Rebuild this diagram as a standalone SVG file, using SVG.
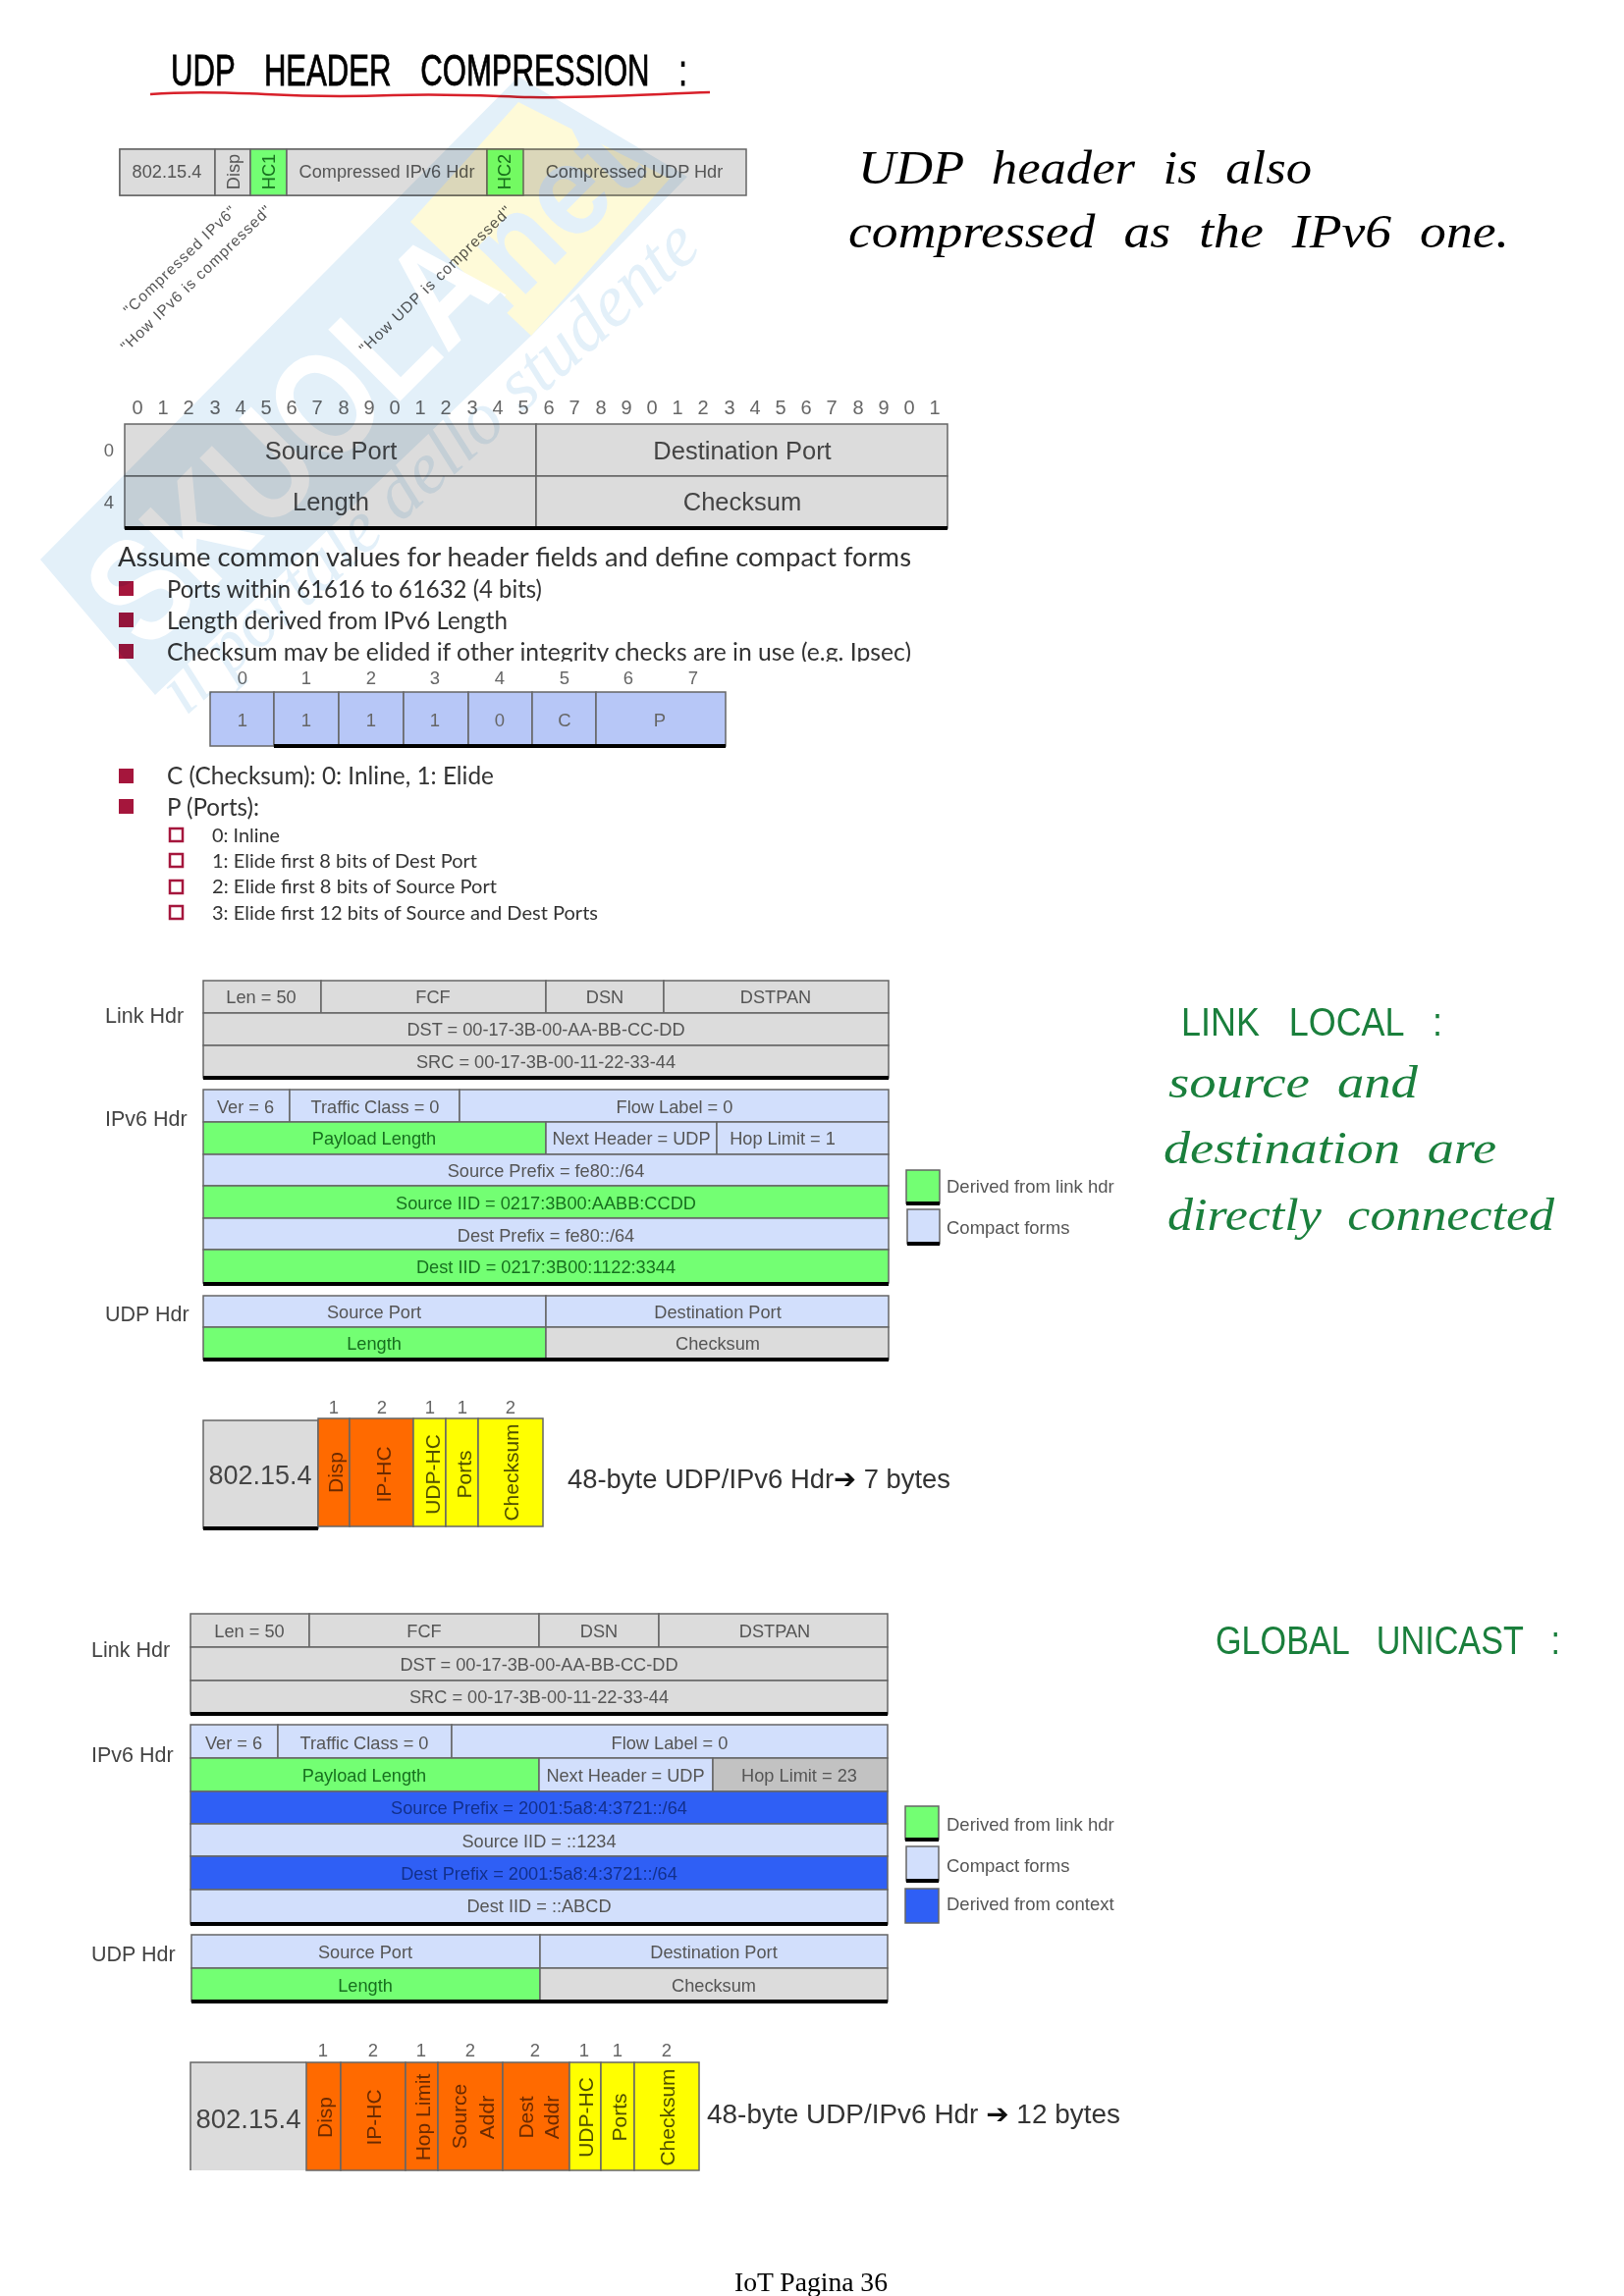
<svg xmlns="http://www.w3.org/2000/svg" width="1654" height="2339" viewBox="0 0 1654 2339">
<style>
text{font-family:"Liberation Sans",Arial,sans-serif;fill:#555}
.c{text-anchor:middle;dominant-baseline:central;font-size:18.2px}
.l{dominant-baseline:central;font-size:18.5px}
.lb{dominant-baseline:central;font-size:21.5px;fill:#444}
.n{text-anchor:middle;dominant-baseline:central;font-size:18.5px;fill:#666}
.r{text-anchor:middle;dominant-baseline:central;font-size:20px;fill:#666}
.big{text-anchor:middle;dominant-baseline:central;font-size:25.5px;fill:#444}
.v{text-anchor:middle;dominant-baseline:central;font-size:21px}
.vo{fill:#6b2a00}.vy{fill:#4f4f00}
.gt{fill:#17701f}.bt{fill:#12308c}
.rot{font-size:15.5px;fill:#555}
.cal{font-family:Lato,"Open Sans",sans-serif;fill:#333}
.hb{font-family:"Liberation Serif",serif;font-style:italic;fill:#000;font-size:48px;word-spacing:14px}
.hg{font-family:"Liberation Serif",serif;font-style:italic;fill:#1a7f3c;font-size:46px;word-spacing:12px}
.cap{font-family:"Liberation Sans",sans-serif;fill:#000;stroke:#000;stroke-width:.8;font-size:44px;word-spacing:30px}
.capg{font-family:"Liberation Sans",sans-serif;fill:#1a7f3c;font-size:40px;word-spacing:22px}
.res{font-size:27.5px;dominant-baseline:central;fill:#333}
.ar{font-family:"DejaVu Sans",sans-serif;font-weight:bold;fill:#111}
rect{stroke:#666;stroke-width:1.5}
.g{fill:#dcdcdc}.b{fill:#d2dffc}.gr{fill:#73ff73}.d{fill:#2f5ff5}.hl{fill:#c2c2c2}.o{fill:#ff6a00}.y{fill:#ffff00}.p{fill:#b7c7f7}
.k{stroke:#000;stroke-width:4;fill:none}
.bul{fill:#a5163c;stroke:none}
.box{fill:#fff;stroke:#a5163c;stroke-width:2.5}
</style>
<defs><clipPath id="cut"><rect x="100" y="560" width="900" height="114" style="stroke:none"/></clipPath></defs>
<rect width="1654" height="2339" fill="#fff" style="stroke:none"/>

<g id="title">
<text class="cap" x="174" y="87" textLength="526" lengthAdjust="spacingAndGlyphs">UDP HEADER COMPRESSION :</text>
<path d="M153 96C190 93 230 94 270 96S340 99 400 97 500 98 540 99 640 97 723 94" fill="none" stroke="#d8202a" stroke-width="2.5"/>
</g>

<g id="format-strip">
<rect class="g" x="122" y="152" width="638" height="47"/>
<rect class="g" x="122" y="152" width="97" height="47"/>
<rect class="g" x="219" y="152" width="36" height="47"/>
<rect class="gr" x="255" y="152" width="37" height="47"/>
<rect class="g" x="292" y="152" width="204" height="47"/>
<rect class="gr" x="496" y="152" width="37" height="47"/>
<text class="c" x="170" y="175">802.15.4</text>
<text class="c" transform="rotate(-90 238 175)" x="238" y="175">Disp</text>
<text class="c gt" transform="rotate(-90 274 175)" x="274" y="175">HC1</text>
<text class="c" x="394" y="175">Compressed IPv6 Hdr</text>
<text class="c gt" transform="rotate(-90 514 175)" x="514" y="175">HC2</text>
<text class="c" x="646" y="175">Compressed UDP Hdr</text>
</g>
<g id="strip-notes">
<text class="rot" transform="translate(132 322) rotate(-44)" textLength="152">"Compressed IPv6"</text>
<text class="rot" transform="translate(129 359) rotate(-44)" textLength="206">"How IPv6 is compressed"</text>
<text class="rot" transform="translate(372 361) rotate(-44)" textLength="208">"How UDP is compressed"</text>
</g>

<g id="bit-ruler">
<text class="r" x="140" y="415">0</text><text class="r" x="166" y="415">1</text><text class="r" x="192" y="415">2</text><text class="r" x="219" y="415">3</text><text class="r" x="245" y="415">4</text><text class="r" x="271" y="415">5</text><text class="r" x="297" y="415">6</text><text class="r" x="323" y="415">7</text><text class="r" x="350" y="415">8</text><text class="r" x="376" y="415">9</text><text class="r" x="402" y="415">0</text><text class="r" x="428" y="415">1</text><text class="r" x="454" y="415">2</text><text class="r" x="481" y="415">3</text><text class="r" x="507" y="415">4</text><text class="r" x="533" y="415">5</text><text class="r" x="559" y="415">6</text><text class="r" x="585" y="415">7</text><text class="r" x="612" y="415">8</text><text class="r" x="638" y="415">9</text><text class="r" x="664" y="415">0</text><text class="r" x="690" y="415">1</text><text class="r" x="716" y="415">2</text><text class="r" x="743" y="415">3</text><text class="r" x="769" y="415">4</text><text class="r" x="795" y="415">5</text><text class="r" x="821" y="415">6</text><text class="r" x="847" y="415">7</text><text class="r" x="874" y="415">8</text><text class="r" x="900" y="415">9</text><text class="r" x="926" y="415">0</text><text class="r" x="952" y="415">1</text>
<text class="n" x="111" y="458">0</text><text class="n" x="111" y="511">4</text>
</g>
<g id="udp-table">
<rect class="g" x="127" y="432" width="419" height="53"/><rect class="g" x="546" y="432" width="419" height="53"/>
<rect class="g" x="127" y="485" width="419" height="53"/><rect class="g" x="546" y="485" width="419" height="53"/>
<line class="k" x1="127" y1="538" x2="965" y2="538"/>
<text class="big" x="337" y="459">Source Port</text><text class="big" x="756" y="459">Destination Port</text>
<text class="big" x="337" y="511">Length</text><text class="big" x="756" y="511">Checksum</text>
</g>

<g id="assumptions">
<text class="cal" x="120" y="577" font-size="27" textLength="808" lengthAdjust="spacingAndGlyphs">Assume common values for header fields and define compact forms</text>
<rect class="bul" x="121" y="592" width="15" height="15"/><rect class="bul" x="121" y="624" width="15" height="15"/><rect class="bul" x="121" y="656" width="15" height="15"/>
<text class="cal" x="170" y="609" font-size="25" textLength="382" lengthAdjust="spacingAndGlyphs">Ports within 61616 to 61632 (4 bits)</text>
<text class="cal" x="170" y="641" font-size="25" textLength="347" lengthAdjust="spacingAndGlyphs">Length derived from IPv6 Length</text>
<text class="cal" x="170" y="673" font-size="25" textLength="758" lengthAdjust="spacingAndGlyphs" clip-path="url(#cut)">Checksum may be elided if other integrity checks are in use (e.g. Ipsec)</text>
</g>

<g id="compact-format">
<text class="n" x="247" y="690">0</text><text class="n" x="312" y="690">1</text><text class="n" x="378" y="690">2</text><text class="n" x="443" y="690">3</text><text class="n" x="509" y="690">4</text><text class="n" x="575" y="690">5</text><text class="n" x="640" y="690">6</text><text class="n" x="706" y="690">7</text>
<rect class="p" x="214" y="705" width="65" height="55"/><rect class="p" x="279" y="705" width="66" height="55"/><rect class="p" x="345" y="705" width="66" height="55"/><rect class="p" x="411" y="705" width="66" height="55"/><rect class="p" x="477" y="705" width="65" height="55"/><rect class="p" x="542" y="705" width="65" height="55"/><rect class="p" x="607" y="705" width="132" height="55"/>
<line class="k" x1="279" y1="760" x2="739" y2="760"/>
<text class="n" x="247" y="733">1</text><text class="n" x="312" y="733">1</text><text class="n" x="378" y="733">1</text><text class="n" x="443" y="733">1</text><text class="n" x="509" y="733">0</text><text class="n" x="575" y="733">C</text><text class="n" x="672" y="733">P</text>
</g>

<g id="field-notes">
<rect class="bul" x="121" y="783" width="15" height="15"/><rect class="bul" x="121" y="814" width="15" height="15"/>
<text class="cal" x="170" y="799" font-size="25" textLength="333" lengthAdjust="spacingAndGlyphs">C (Checksum): 0: Inline, 1: Elide</text>
<text class="cal" x="170" y="831" font-size="25" textLength="94" lengthAdjust="spacingAndGlyphs">P (Ports):</text>
<rect class="box" x="173" y="844" width="13" height="13"/><rect class="box" x="173" y="870" width="13" height="13"/><rect class="box" x="173" y="897" width="13" height="13"/><rect class="box" x="173" y="923" width="13" height="13"/>
<text class="cal" x="216" y="858" font-size="20" textLength="69" lengthAdjust="spacingAndGlyphs">0: Inline</text>
<text class="cal" x="216" y="884" font-size="20" textLength="270" lengthAdjust="spacingAndGlyphs">1: Elide first 8 bits of Dest Port</text>
<text class="cal" x="216" y="910" font-size="20" textLength="290" lengthAdjust="spacingAndGlyphs">2: Elide first 8 bits of Source Port</text>
<text class="cal" x="216" y="937" font-size="20" textLength="393" lengthAdjust="spacingAndGlyphs">3: Elide first 12 bits of Source and Dest Ports</text>
</g>

<g id="note-udp">
<text class="hb" x="874" y="187" textLength="462" lengthAdjust="spacingAndGlyphs">UDP header is also</text>
<text class="hb" x="864" y="252" textLength="673" lengthAdjust="spacingAndGlyphs">compressed as the IPv6 one.</text>
</g>

<g id="ll-link">
<text class="lb" x="107" y="1035">Link Hdr</text>
<rect class="g" x="207" y="999" width="120" height="33"/><rect class="g" x="327" y="999" width="229" height="33"/><rect class="g" x="556" y="999" width="120" height="33"/><rect class="g" x="676" y="999" width="229" height="33"/>
<rect class="g" x="207" y="1032" width="698" height="33"/><rect class="g" x="207" y="1065" width="698" height="33"/>
<line class="k" x1="207" y1="1098" x2="905" y2="1098"/>
<text class="c" x="266" y="1016">Len = 50</text><text class="c" x="441" y="1016">FCF</text><text class="c" x="616" y="1016">DSN</text><text class="c" x="790" y="1016">DSTPAN</text>
<text class="c" x="556" y="1049">DST = 00-17-3B-00-AA-BB-CC-DD</text><text class="c" x="556" y="1082">SRC = 00-17-3B-00-11-22-33-44</text>
</g>
<g id="ll-ipv6">
<text class="lb" x="107" y="1140">IPv6 Hdr</text>
<rect class="b" x="207" y="1110" width="88" height="33"/><rect class="b" x="295" y="1110" width="173" height="33"/><rect class="b" x="468" y="1110" width="437" height="33"/>
<rect class="gr" x="207" y="1143" width="349" height="33"/><rect class="b" x="556" y="1143" width="174" height="33"/><rect class="b" x="730" y="1143" width="175" height="33"/>
<rect class="b" x="207" y="1176" width="698" height="32"/><rect class="gr" x="207" y="1208" width="698" height="33"/><rect class="b" x="207" y="1241" width="698" height="32"/><rect class="gr" x="207" y="1273" width="698" height="34"/>
<line class="k" x1="207" y1="1308" x2="905" y2="1308"/>
<text class="c" x="250" y="1128">Ver = 6</text><text class="c" x="382" y="1128">Traffic Class = 0</text><text class="c" x="687" y="1128">Flow Label = 0</text>
<text class="c gt" x="381" y="1160">Payload Length</text><text class="c" x="643" y="1160">Next Header = UDP</text><text class="c" x="797" y="1160">Hop Limit = 1</text>
<text class="c" x="556" y="1193">Source Prefix = fe80::/64</text><text class="c gt" x="556" y="1226">Source IID = 0217:3B00:AABB:CCDD</text>
<text class="c" x="556" y="1259">Dest Prefix = fe80::/64</text><text class="c gt" x="556" y="1291">Dest IID = 0217:3B00:1122:3344</text>
</g>
<g id="ll-udp">
<text class="lb" x="107" y="1339">UDP Hdr</text>
<rect class="b" x="207" y="1320" width="349" height="32"/><rect class="b" x="556" y="1320" width="349" height="32"/><rect class="gr" x="207" y="1352" width="349" height="33"/><rect class="g" x="556" y="1352" width="349" height="33"/>
<line class="k" x1="207" y1="1385" x2="905" y2="1385"/>
<text class="c" x="381" y="1337">Source Port</text><text class="c" x="731" y="1337">Destination Port</text><text class="c gt" x="381" y="1369">Length</text><text class="c" x="731" y="1369">Checksum</text>
</g>
<g id="ll-legend">
<rect class="gr" x="923" y="1192" width="34" height="34"/><line class="k" x1="923" y1="1226" x2="957" y2="1226"/>
<rect class="b" x="924" y="1232" width="33" height="35"/><line class="k" x1="924" y1="1267" x2="957" y2="1267"/>
<text class="l" x="964" y="1208">Derived from link hdr</text><text class="l" x="964" y="1250">Compact forms</text>
</g>
<g id="note-link-local">
<text class="capg" x="1203" y="1055" textLength="266" lengthAdjust="spacingAndGlyphs">LINK LOCAL :</text>
<text class="hg" x="1190" y="1118" textLength="254" lengthAdjust="spacingAndGlyphs">source and</text>
<text class="hg" x="1185" y="1185" textLength="339" lengthAdjust="spacingAndGlyphs">destination are</text>
<text class="hg" x="1189" y="1253" textLength="394" lengthAdjust="spacingAndGlyphs">directly connected</text>
</g>

<g id="ll-compressed">
<text class="n" x="340" y="1433">1</text><text class="n" x="389" y="1433">2</text><text class="n" x="438" y="1433">1</text><text class="n" x="471" y="1433">1</text><text class="n" x="520" y="1433">2</text>
<rect class="g" x="207" y="1447" width="117" height="110"/><line class="k" x1="207" y1="1557" x2="324" y2="1557"/>
<rect class="o" x="324" y="1445" width="32" height="110"/><rect class="o" x="356" y="1445" width="65" height="110"/>
<rect class="y" x="421" y="1445" width="33" height="110"/><rect class="y" x="454" y="1445" width="33" height="110"/><rect class="y" x="487" y="1445" width="66" height="110"/>
<text class="c" style="font-size:27px;fill:#444" x="265" y="1503">802.15.4</text>
<text class="v vo" transform="rotate(-90 341 1500)" x="341" y="1500">Disp</text>
<text class="v vo" transform="rotate(-90 390 1502)" x="390" y="1502">IP-HC</text>
<text class="v vy" transform="rotate(-90 440 1502)" x="440" y="1502">UDP-HC</text>
<text class="v vy" transform="rotate(-90 472 1502)" x="472" y="1502">Ports</text>
<text class="v vy" transform="rotate(-90 520 1500)" x="520" y="1500">Checksum</text>
<text class="res" x="578" y="1506" textLength="390" lengthAdjust="spacingAndGlyphs">48-byte UDP/IPv6 Hdr<tspan class="ar">➔</tspan> 7 bytes</text>
</g>

<g id="gu-link">
<text class="lb" x="93" y="1681">Link Hdr</text>
<rect class="g" x="194" y="1644" width="121" height="34"/><rect class="g" x="315" y="1644" width="234" height="34"/><rect class="g" x="549" y="1644" width="122" height="34"/><rect class="g" x="671" y="1644" width="233" height="34"/>
<rect class="g" x="194" y="1678" width="710" height="34"/><rect class="g" x="194" y="1712" width="710" height="34"/>
<line class="k" x1="194" y1="1746" x2="904" y2="1746"/>
<text class="c" x="254" y="1662">Len = 50</text><text class="c" x="432" y="1662">FCF</text><text class="c" x="610" y="1662">DSN</text><text class="c" x="789" y="1662">DSTPAN</text>
<text class="c" x="549" y="1696">DST = 00-17-3B-00-AA-BB-CC-DD</text><text class="c" x="549" y="1729">SRC = 00-17-3B-00-11-22-33-44</text>
</g>
<g id="gu-ipv6">
<text class="lb" x="93" y="1788">IPv6 Hdr</text>
<rect class="b" x="194" y="1757" width="89" height="34"/><rect class="b" x="283" y="1757" width="177" height="34"/><rect class="b" x="460" y="1757" width="444" height="34"/>
<rect class="gr" x="194" y="1791" width="355" height="34"/><rect class="b" x="549" y="1791" width="177" height="34"/><rect class="hl" x="726" y="1791" width="178" height="34"/>
<rect class="d" x="194" y="1825" width="710" height="33"/><rect class="b" x="194" y="1858" width="710" height="33"/><rect class="d" x="194" y="1891" width="710" height="34"/><rect class="b" x="194" y="1925" width="710" height="35"/>
<line class="k" x1="194" y1="1960" x2="904" y2="1960"/>
<text class="c" x="238" y="1776">Ver = 6</text><text class="c" x="371" y="1776">Traffic Class = 0</text><text class="c" x="682" y="1776">Flow Label = 0</text>
<text class="c gt" x="371" y="1809">Payload Length</text><text class="c" x="637" y="1809">Next Header = UDP</text><text class="c" x="814" y="1809">Hop Limit = 23</text>
<text class="c bt" x="549" y="1842">Source Prefix = 2001:5a8:4:3721::/64</text><text class="c" x="549" y="1876">Source IID = ::1234</text>
<text class="c bt" x="549" y="1909">Dest Prefix = 2001:5a8:4:3721::/64</text><text class="c" x="549" y="1942">Dest IID = ::ABCD</text>
</g>
<g id="gu-udp">
<text class="lb" x="93" y="1991">UDP Hdr</text>
<rect class="b" x="195" y="1971" width="355" height="34"/><rect class="b" x="550" y="1971" width="354" height="34"/><rect class="gr" x="195" y="2005" width="355" height="34"/><rect class="g" x="550" y="2005" width="354" height="34"/>
<line class="k" x1="195" y1="2039" x2="904" y2="2039"/>
<text class="c" x="372" y="1989">Source Port</text><text class="c" x="727" y="1989">Destination Port</text><text class="c gt" x="372" y="2023">Length</text><text class="c" x="727" y="2023">Checksum</text>
</g>
<g id="gu-legend">
<rect class="gr" x="922" y="1840" width="34" height="34"/><line class="k" x1="922" y1="1874" x2="956" y2="1874"/>
<rect class="b" x="923" y="1881" width="33" height="35"/><line class="k" x1="923" y1="1916" x2="956" y2="1916"/>
<rect class="d" x="922" y="1924" width="34" height="35"/>
<text class="l" x="964" y="1858">Derived from link hdr</text><text class="l" x="964" y="1900">Compact forms</text><text class="l" x="964" y="1939">Derived from context</text>
</g>
<g id="note-global">
<text class="capg" x="1238" y="1685" textLength="351" lengthAdjust="spacingAndGlyphs">GLOBAL UNICAST :</text>
</g>

<g id="gu-compressed">
<text class="n" x="329" y="2088">1</text><text class="n" x="380" y="2088">2</text><text class="n" x="429" y="2088">1</text><text class="n" x="479" y="2088">2</text><text class="n" x="545" y="2088">2</text><text class="n" x="595" y="2088">1</text><text class="n" x="629" y="2088">1</text><text class="n" x="679" y="2088">2</text>
<rect x="194" y="2101" width="118" height="110" class="g" style="stroke:none"/>
<path d="M194 2211V2101H312" fill="none" stroke="#666" stroke-width="1.5"/>
<rect class="o" x="312" y="2101" width="35" height="110"/><rect class="o" x="347" y="2101" width="66" height="110"/><rect class="o" x="413" y="2101" width="33" height="110"/><rect class="o" x="446" y="2101" width="66" height="110"/><rect class="o" x="512" y="2101" width="68" height="110"/>
<rect class="y" x="580" y="2101" width="32" height="110"/><rect class="y" x="612" y="2101" width="34" height="110"/><rect class="y" x="646" y="2101" width="66" height="110"/>
<text class="c" style="font-size:27.5px;fill:#444" x="253" y="2158">802.15.4</text>
<text class="v vo" transform="rotate(-90 330 2157)" x="330" y="2157">Disp</text>
<text class="v vo" transform="rotate(-90 380 2157)" x="380" y="2157">IP-HC</text>
<text class="v vo" transform="rotate(-90 430 2157)" x="430" y="2157">Hop Limit</text>
<text class="v vo" transform="rotate(-90 467 2156)" x="467" y="2156">Source</text>
<text class="v vo" transform="rotate(-90 495 2157)" x="495" y="2157">Addr</text>
<text class="v vo" transform="rotate(-90 535 2157)" x="535" y="2157">Dest</text>
<text class="v vo" transform="rotate(-90 561 2157)" x="561" y="2157">Addr</text>
<text class="v vy" transform="rotate(-90 596 2157)" x="596" y="2157">UDP-HC</text>
<text class="v vy" transform="rotate(-90 630 2157)" x="630" y="2157">Ports</text>
<text class="v vy" transform="rotate(-90 679 2157)" x="679" y="2157">Checksum</text>
<text class="res" x="720" y="2153" textLength="421" lengthAdjust="spacingAndGlyphs">48-byte UDP/IPv6 Hdr <tspan class="ar">➔</tspan> 12 bytes</text>
</g>

<text id="footer" x="748" y="2334" textLength="156" lengthAdjust="spacingAndGlyphs" style="font-family:'Liberation Serif',serif;font-size:27.5px;fill:#000">IoT Pagina 36</text>

<g id="watermark" style="mix-blend-mode:multiply">
<polygon points="41,570 528,78 700,180 541,342 158,708" fill="#e3f0f9" style="stroke:none"/>
<polygon points="418,226 528,104 682,182 541,342" fill="#fefad8" style="stroke:none"/>
<text transform="translate(150 666) rotate(-45)" style="font-family:'Liberation Sans',sans-serif;font-weight:bold;font-size:150px;fill:#fff" textLength="520" lengthAdjust="spacingAndGlyphs">SKUOLA</text>
<text transform="translate(505 330) rotate(-45)" style="font-family:'Liberation Sans',sans-serif;font-weight:bold;font-size:130px;fill:#e3f0f9" textLength="220" lengthAdjust="spacingAndGlyphs">.net</text>
<text transform="translate(189 730) rotate(-42)" style="font-family:'Liberation Serif',serif;font-style:italic;font-size:76px;fill:#e3f0f9" textLength="710" lengthAdjust="spacingAndGlyphs">il portale dello studente</text>
</g>
</svg>
